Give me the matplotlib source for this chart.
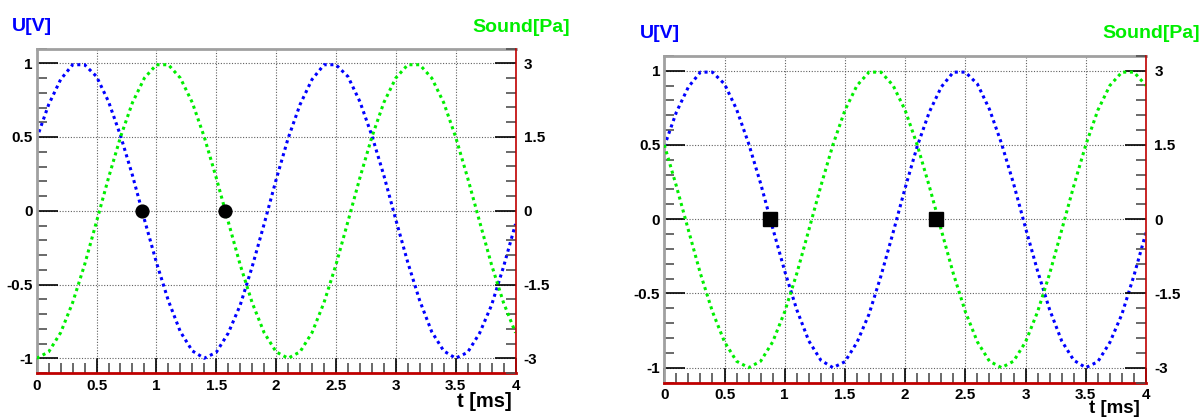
import numpy as np
import matplotlib
matplotlib.use("Agg")
import matplotlib.pyplot as plt
from matplotlib.ticker import MultipleLocator, FixedLocator

plt.rcParams['font.family'] = ['Liberation Sans', 'DejaVu Sans']
plt.rcParams['font.weight'] = 'bold'

W, H = 1201, 417

# time axis in ms, one sample every 0.1 ms
t = [round(0.1 * i, 1) for i in range(41)]

# voltage U[V] (same signal in both)
u_volt = [0.49, 0.72, 0.89, 0.99, 0.99, 0.91, 0.74, 0.51, 0.24, -0.06,
          -0.35, -0.61, -0.82, -0.95, -1.00, -0.96, -0.83, -0.64, -0.38, -0.09,
          0.21, 0.49, 0.72, 0.89, 0.99, 0.99, 0.91, 0.74, 0.51, 0.24,
          -0.06, -0.35, -0.61, -0.82, -0.95, -1.00, -0.96, -0.83, -0.64, -0.38,
          -0.09]

# sound pressure [Pa], left panel
sound_left = [-3.00, -2.87, -2.48, -1.87, -1.10, -0.22, 0.67, 1.50, 2.20, 2.70,
              2.97, 2.97, 2.70, 2.20, 1.50, 0.67, -0.22, -1.10, -1.87, -2.48,
              -2.87, -3.00, -2.87, -2.48, -1.87, -1.10, -0.22, 0.67, 1.50, 2.20,
              2.70, 2.97, 2.97, 2.70, 2.20, 1.50, 0.67, -0.22, -1.10, -1.87,
              -2.48]

# sound pressure [Pa], right panel
sound_right = [1.50, 0.67, -0.22, -1.10, -1.87, -2.48, -2.87, -3.00, -2.87, -2.48,
               -1.87, -1.10, -0.22, 0.67, 1.50, 2.20, 2.70, 2.97, 2.97, 2.70,
               2.20, 1.50, 0.67, -0.22, -1.10, -1.87, -2.48, -2.87, -3.00, -2.87,
               -2.48, -1.87, -1.10, -0.22, 0.67, 1.50, 2.20, 2.70, 2.97, 2.97,
               2.70]

# zero crossing markers
dots_left_t = [0.88, 1.575]
dots_left_y = [0, 0]
dots_right_t = [0.88, 2.26]
dots_right_y = [0, 0]

x_ticks = [0, 0.5, 1, 1.5, 2, 2.5, 3, 3.5, 4]
x_labels = ['0', '0.5', '1', '1.5', '2', '2.5', '3', '3.5', '4']
u_ticks = [-1, -0.5, 0, 0.5, 1]
u_labels = ['-1', '-0.5', '0', '0.5', '1']
p_ticks = [-3, -1.5, 0, 1.5, 3]
p_labels = ['-3', '-1.5', '0', '1.5', '3']

BLUE = '#0000ff'
GREEN = '#00ee00'
RED = '#c00000'
GRAY = '#a0a0a0'

fig = plt.figure(figsize=(W / 100, H / 100), dpi=100)


def px_box(x0, y0, x1, y1):
    return [x0 / W, 1 - y1 / H, (x1 - x0) / W, (y1 - y0) / H]


def panel(box, sound, mt, my, marker, ms, utxt, stxt, xlab, xfs):
    ax = fig.add_axes(px_box(*box))
    ax.set_xlim(0, 4)
    ax.set_ylim(-1.1, 1.1)
    ax.set_xticks(x_ticks)
    ax.set_xticklabels(x_labels)
    ax.set_yticks(u_ticks)
    ax.set_yticklabels(u_labels)
    ax.xaxis.set_minor_locator(MultipleLocator(0.1))
    ax.yaxis.set_minor_locator(MultipleLocator(0.1))
    ax.tick_params(which='major', direction='in', length=11, width=1.2,
                   color='black', labelsize=11, pad=4)
    ax.tick_params(axis='y', which='major', length=15, pad=3)
    ax.tick_params(which='minor', direction='in', length=7, width=1.2,
                   color='#505050')
    ax.grid(True, which='major', linestyle=(0, (1, 1.5)), color='#606060',
            linewidth=0.8)
    ax.spines['top'].set_color(GRAY)
    ax.spines['top'].set_linewidth(2)
    ax.spines['left'].set_color(GRAY)
    ax.spines['left'].set_linewidth(2)
    ax.spines['bottom'].set_color(RED)
    ax.spines['bottom'].set_linewidth(2)
    ax.spines['right'].set_visible(False)
    ax.plot(t, u_volt, color=BLUE, linestyle=(0, (1, 1.2)), linewidth=2.2)

    ax2 = ax.twinx()
    ax2.set_ylim(-3.3, 3.3)
    ax2.yaxis.set_major_locator(FixedLocator(p_ticks))
    ax2.set_yticklabels(p_labels)
    ax2.yaxis.set_minor_locator(MultipleLocator(0.3))
    ax2.tick_params(which='major', direction='in', length=15, width=1.2,
                    color='black', labelsize=11, pad=6)
    ax2.tick_params(which='minor', direction='in', length=7, width=1.2,
                    color='#505050')
    for s in ['top', 'left', 'bottom']:
        ax2.spines[s].set_visible(False)
    ax2.spines['right'].set_color(RED)
    ax2.spines['right'].set_linewidth(1.2)
    ax2.plot(t, sound, color=GREEN, linestyle=(0, (1, 1.2)), linewidth=2.2)
    ax2.plot(mt, [v * 3 for v in my], linestyle='none', marker=marker,
             color='black', markersize=ms)

    fig.text(utxt[0] / W, 1 - utxt[1] / H, 'U[V]', color=BLUE, fontsize=14,
             fontweight='bold', va='center', ha='left')
    fig.text(stxt[0] / W, 1 - stxt[1] / H, 'Sound[Pa]', color=GREEN,
             fontsize=14, fontweight='bold', va='center', ha='right')
    fig.text(xlab[0] / W, 1 - xlab[1] / H, 't [ms]', color='black',
             fontsize=xfs, fontweight='bold', va='baseline', ha='right')


panel((36.7, 48.5, 515.5, 373.0), sound_left, dots_left_t, dots_left_y,
      'o', 9.2, (12, 26.5), (570, 27), (512, 407), 14.5)
panel((664.3, 55.8, 1146.0, 382.5), sound_right, dots_right_t, dots_right_y,
      's', 9.4, (640, 34), (1200, 33.5), (1140, 413), 13.5)

fig.savefig('out.png', dpi=100)
